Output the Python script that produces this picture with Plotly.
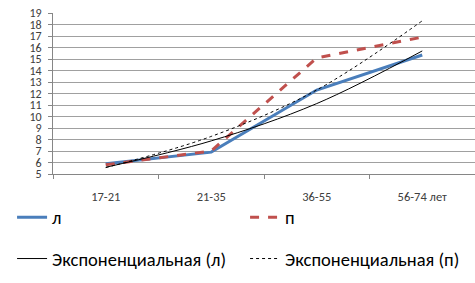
import numpy as np
import plotly.graph_objects as go

categories = ["17-21", "21-35", "36-55", "56-74 лет"]
series_l = [5.9, 6.9, 12.3, 15.35]
series_p = [5.8, 7.0, 15.1, 16.9]
y_ticks = list(range(5, 20))

def exp_trend(vals):
    x = np.arange(1, len(vals) + 1)
    b, a = np.polyfit(x, np.log(vals), 1)
    return list(np.exp(a + b * x))

trend_l = exp_trend(series_l)
trend_p = exp_trend(series_p)

FONT = "Carlito, Lato, 'Open Sans', sans-serif"

fig = go.Figure()
fig.add_trace(go.Scatter(x=categories, y=series_l, name="л", mode="lines",
                         line=dict(color="#4A7EBB", width=3), legend="legend"))
fig.add_trace(go.Scatter(x=categories, y=series_p, name="п", mode="lines",
                         line=dict(color="#C0504D", width=3, dash="dash"), legend="legend"))
fig.add_trace(go.Scatter(x=categories, y=trend_l, name="Экспоненциальная (л)", mode="lines",
                         line=dict(color="#000000", width=1, shape="spline"), legend="legend2"))
fig.add_trace(go.Scatter(x=categories, y=trend_p, name="Экспоненциальная (п)", mode="lines",
                         line=dict(color="#000000", width=1, dash="dot", shape="spline"), legend="legend2"))

legend_common = dict(orientation="h", xanchor="left", yanchor="middle",
                     font=dict(family=FONT, size=18.5, color="#000000"),
                     entrywidthmode="pixels", entrywidth=188,
                     bgcolor="rgba(0,0,0,0)", borderwidth=0, itemclick=False)

fig.update_layout(
    width=475, height=283,
    margin=dict(l=53, r=0, t=13, b=109, autoexpand=False),
    paper_bgcolor="white", plot_bgcolor="white",
    showlegend=True,
    legend=dict(x=-0.097, y=-0.271, **legend_common),
    legend2=dict(x=-0.097, y=-0.528, **legend_common),
    xaxis=dict(type="category", range=[-0.5, 3.5], showgrid=False,
               showline=True, linecolor="#868686", linewidth=1,
               ticks="outside", tickson="boundaries", ticklen=4, tickcolor="#868686",
               ticklabelstandoff=11,
               tickfont=dict(family=FONT, size=12.5, color="#404040")),
    yaxis=dict(range=[5, 19], tickvals=y_ticks, showgrid=True, gridcolor="#A0A0A0",
               gridwidth=1, showline=True, linecolor="#868686", linewidth=1,
               ticks="outside", ticklen=4, tickcolor="#868686", zeroline=False,
               ticklabelstandoff=4,
               tickfont=dict(family=FONT, size=12, color="#404040")),
)

fig.write_html("out.html", config={"displayModeBar": False},
               post_script="document.body.style.margin='0';document.body.style.overflow='hidden';")
